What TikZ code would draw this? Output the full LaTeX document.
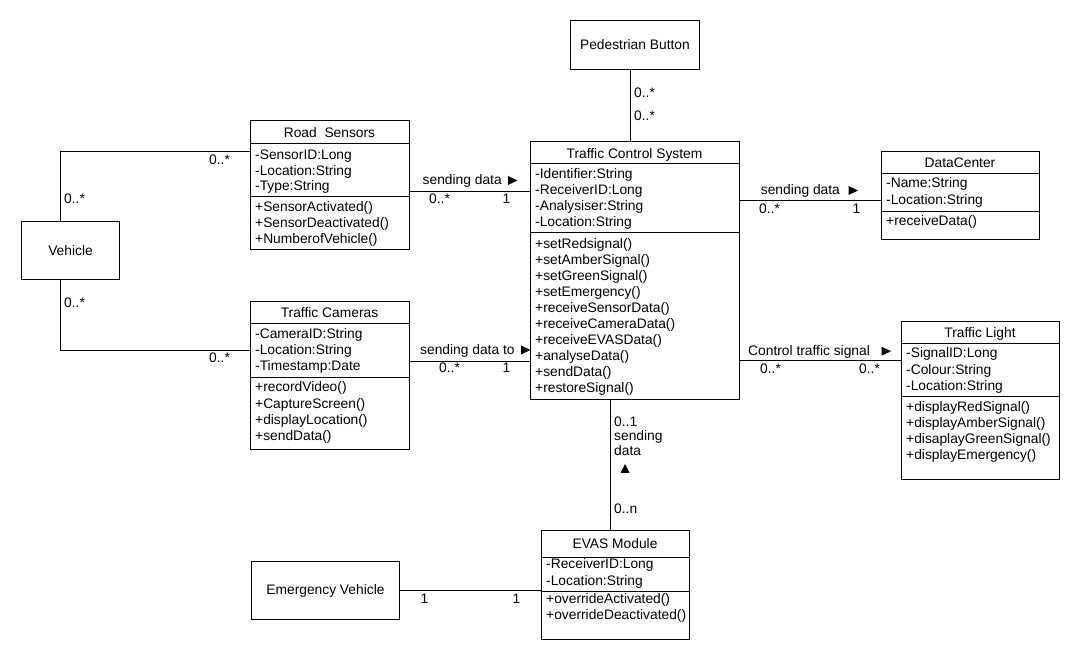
\documentclass[tikz,border=0pt]{standalone}
\usepackage{fontspec}
\setmainfont{Liberation Sans}
\begin{document}
\begin{tikzpicture}[x=1pt,y=-1pt,
  umlbox/.style={draw, line width=0.9pt, inner sep=0pt, anchor=north west},
  divider/.style={line width=0.9pt},
  link/.style={line width=0.9pt},
  umltxt/.style={inner sep=0pt, font=\fontsize{13.8}{16}\selectfont},
  row/.style={umltxt, anchor=base west},
  classtitle/.style={umltxt, anchor=base},
  boxlabel/.style={umltxt, anchor=center},
  arrowtri/.style={fill=black}]
\useasboundingbox (0,0) rectangle (1080,660);

% ---------- plain boxes ----------
\node[umlbox, minimum width=98.5pt, minimum height=58pt] (veh) at (20.8,220.8) {};
\node[boxlabel] (veh-n) at (veh.center) {Vehicle};

\node[umlbox, minimum width=129pt, minimum height=49pt] (ped) at (570,20) {};
\node[boxlabel] (ped-n) at (ped.center) {Pedestrian Button};

\node[umlbox, minimum width=148pt, minimum height=58pt] (ev) at (251,561) {};
\node[boxlabel] (ev-n) at (ev.center) {Emergency Vehicle};

% ---------- Road Sensors ----------
\node[umlbox, minimum width=159pt, minimum height=129pt] (rs) at (250,120) {};
\node[classtitle] (rs-t) at (329.5,138) {Road\ \ Sensors};
\draw[divider] (rs.west |- 0,143) -- (rs.east |- 0,143);
\draw[divider] (rs.west |- 0,196) -- (rs.east |- 0,196);
\foreach \s [count=\i from 0] in {-SensorID:Long,-Location:String,-Type:String}
  \node[row] (rs-a\i) at (255,159.5+15.7*\i) {\s};
\foreach \s [count=\i from 0] in {+SensorActivated(),+SensorDeactivated(),+NumberofVehicle()}
  \node[row] (rs-o\i) at (255,211.8+15.7*\i) {\s};

% ---------- Traffic Cameras ----------
\node[umlbox, minimum width=159pt, minimum height=148pt] (cam) at (250,301) {};
\node[classtitle] (cam-t) at (329.5,318) {Traffic Cameras};
\draw[divider] (cam.west |- 0,323) -- (cam.east |- 0,323);
\draw[divider] (cam.west |- 0,377) -- (cam.east |- 0,377);
\foreach \s [count=\i from 0] in {-CameraID:String,-Location:String,-Timestamp:Date}
  \node[row] (cam-a\i) at (255,338.5+16.2*\i) {\s};
\foreach \s [count=\i from 0] in {+recordVideo(),+CaptureScreen(),+displayLocation(),+sendData()}
  \node[row] (cam-o\i) at (255,392+16.1*\i) {\s};

% ---------- Traffic Control System ----------
\node[umlbox, minimum width=209pt, minimum height=258pt] (tcs) at (530,141) {};
\node[classtitle] (tcs-t) at (634.5,158.3) {Traffic Control System};
\draw[divider] (tcs.west |- 0,163) -- (tcs.east |- 0,163);
\draw[divider] (tcs.west |- 0,232) -- (tcs.east |- 0,232);
\foreach \s [count=\i from 0] in {-Identifier:String,-ReceiverID:Long,-Analysiser:String,-Location:String}
  \node[row] (tcs-a\i) at (535,178.3+16*\i) {\s};
\foreach \s [count=\i from 0] in {+setRedsignal(),+setAmberSignal(),+setGreenSignal(),+setEmergency(),+receiveSensorData(),+receiveCameraData(),+receiveEVASData(),+analyseData(),+sendData(),+restoreSignal()}
  \node[row] (tcs-o\i) at (535,248.3+16*\i) {\s};

% ---------- DataCenter ----------
\node[umlbox, minimum width=158pt, minimum height=88pt] (dc) at (881,151) {};
\node[classtitle] (dc-t) at (960,167.7) {DataCenter};
\draw[divider] (dc.west |- 0,173) -- (dc.east |- 0,173);
\draw[divider] (dc.west |- 0,211) -- (dc.east |- 0,211);
\foreach \s [count=\i from 0] in {-Name:String,-Location:String}
  \node[row] (dc-a\i) at (886,187.8+16.5*\i) {\s};
\node[row] (dc-o0) at (886,226) {+receiveData()};

% ---------- Traffic Light ----------
\node[umlbox, minimum width=158pt, minimum height=158pt] (tl) at (901,321) {};
\node[classtitle] (tl-t) at (980,337.7) {Traffic Light};
\draw[divider] (tl.west |- 0,343) -- (tl.east |- 0,343);
\draw[divider] (tl.west |- 0,396) -- (tl.east |- 0,396);
\foreach \s [count=\i from 0] in {-SignalID:Long,-Colour:String,-Location:String}
  \node[row] (tl-a\i) at (906,357.8+16.4*\i) {\s};
\foreach \s [count=\i from 0] in {+displayRedSignal(),+displayAmberSignal(),+disaplayGreenSignal(),+displayEmergency()}
  \node[row] (tl-o\i) at (906,411.8+15.8*\i) {\s};

% ---------- EVAS Module ----------
\node[umlbox, minimum width=148pt, minimum height=109pt] (evas) at (541,530) {};
\node[classtitle] (evas-t) at (615,548.3) {EVAS Module};
\draw[divider] (evas.west |- 0,557) -- (evas.east |- 0,557);
\draw[divider] (evas.west |- 0,591) -- (evas.east |- 0,591);
\foreach \s [count=\i from 0] in {-ReceiverID:Long,-Location:String}
  \node[row] (evas-a\i) at (546,568.3+16.7*\i) {\s};
\foreach \s [count=\i from 0] in {+overrideActivated(),+overrideDeactivated()}
  \node[row] (evas-o\i) at (546,603.3+16*\i) {\s};

% ---------- associations ----------
\draw[link] ([xshift=-10pt]veh.north) |- (rs.west |- 0,151);
\node[row] (m1) at (209,165) {0..*};
\node[row] (m2) at (64,204) {0..*};

\draw[link] ([xshift=-10pt]veh.south) |- (cam.west |- 0,350.3);
\node[row] (m3) at (64,308) {0..*};
\node[row] (m4) at (209,363) {0..*};

\draw[link] (rs.east |- 0,191) -- (tcs.west |- 0,191);
\node[row] (l1) at (422.5,185) {sending data};
\fill[arrowtri] (508,176) -- (517.5,180.5) -- (508,185) -- cycle;
\node[row] (m5) at (429,204) {0..*};
\node[row] (m6) at (502.5,204) {1};

\draw[link] (cam.east |- 0,361) -- (tcs.west |- 0,361);
\node[row] (l2) at (420,355) {sending data to};
\fill[arrowtri] (521,345.5) -- (530.5,350) -- (521,354.5) -- cycle;
\node[row] (m7) at (439,373) {0..*};
\node[row] (m8) at (502.5,373) {1};

\draw[link] (ped.south -| 630,0) -- (tcs.north -| 630,0);
\node[row] (m9) at (634,98) {0..*};
\node[row] (m10) at (634,120.5) {0..*};

\draw[link] (tcs.east |- 0,200.7) -- (dc.west |- 0,200.7);
\node[row] (l3) at (760.7,195) {sending data};
\fill[arrowtri] (848.5,186) -- (858,190.5) -- (848.5,195) -- cycle;
\node[row] (m11) at (759,214) {0..*};
\node[row] (m12) at (852.5,214) {1};

\draw[link] (tcs.east |- 0,360.7) -- (tl.west |- 0,360.7);
\node[row] (l4) at (748,355.7) {Control traffic signal};
\fill[arrowtri] (881.5,346.7) -- (891,351.2) -- (881.5,355.7) -- cycle;
\node[row] (m13) at (760,374) {0..*};
\node[row] (m14) at (859,374) {0..*};

\draw[link] (tcs.south -| 610.3,0) -- (evas.north -| 610.3,0);
\node[row] (m15) at (614,426.7) {0..1};
\node[row] (l5) at (614,441) {sending};
\node[row] (l6) at (614,456) {data};
\fill[arrowtri] (620.5,473) -- (625,464) -- (629.5,473) -- cycle;
\node[row] (m16) at (614,513.3) {0..n};

\draw[link] (ev.east |- 0,590.3) -- (evas.west |- 0,590.3);
\node[row] (m17) at (420.5,603) {1};
\node[row] (m18) at (512.5,603) {1};
\end{tikzpicture}
\end{document}
